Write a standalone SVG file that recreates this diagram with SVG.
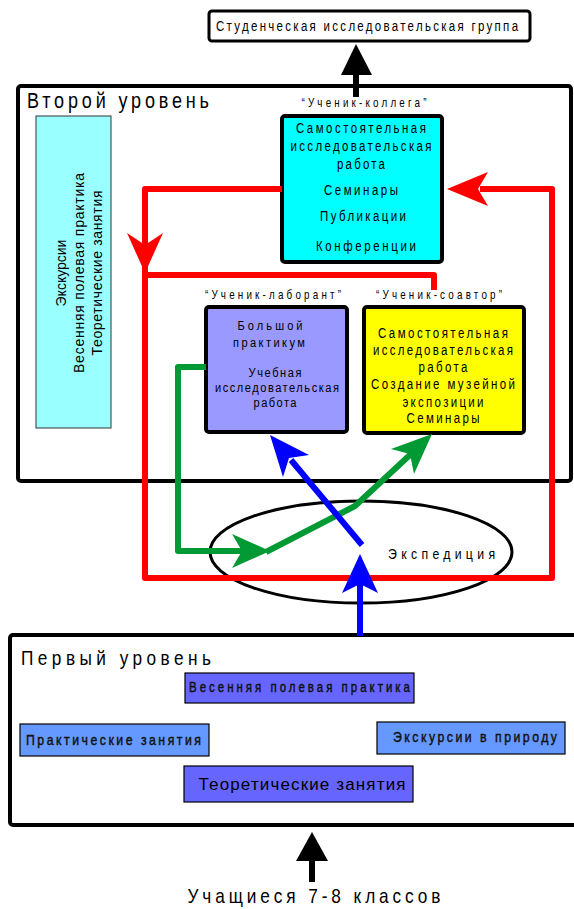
<svg xmlns="http://www.w3.org/2000/svg" width="574" height="909" viewBox="0 0 574 909">
<style>
.t{font-family:"Liberation Sans",Arial,sans-serif;fill:#000;text-anchor:middle}
.tl{font-family:"Liberation Sans",Arial,sans-serif;fill:#000}
.b{fill:#111;stroke:#111;stroke-width:0.45}
.r{font-family:"Liberation Sans",Arial,sans-serif;fill:#000;text-anchor:middle}
.frame{fill:#fff;stroke:#000;stroke-width:4}
.box{stroke:#000;stroke-width:4}
.thin{stroke:#000;stroke-width:1.2}
.red{fill:none;stroke:#f00;stroke-width:6;stroke-linejoin:round}
.green{fill:none;stroke:#009933;stroke-width:6;stroke-linejoin:round}
.blue{fill:none;stroke:#00f;stroke-width:6}
.blk{fill:none;stroke:#000;stroke-width:6}
</style>
<rect width="574" height="909" fill="#fff"/>

<g id="level2">
<rect class="frame" x="18" y="86" width="553" height="395" rx="3"/>
<g transform="scale(0.82,1)">
<text class="tl" x="32.9" y="108" font-size="22" textLength="222">Второй уровень</text>
</g>
</g>

<g id="level1">
<rect class="frame" x="10" y="635" width="570" height="190" rx="3"/>
<g transform="scale(0.82,1)">
<text class="tl" x="25.6" y="665" font-size="21" textLength="231.7">Первый уровень</text>
</g>
</g>

<g id="student-group">
<rect x="209" y="11" width="321" height="30" rx="3" fill="#fff" stroke="#000" stroke-width="3"/>
<g transform="scale(0.82,1)">
<text class="t" x="447.6" y="31" font-size="14" textLength="368.3">Студенческая исследовательская группа</text>
</g>
</g>

<g id="first-level-activities">
<rect x="36" y="116" width="75" height="312" fill="#99ffff" stroke="#333" stroke-width="1"/>
<g transform="translate(0,273) rotate(-90)">
<text class="r" x="0" y="66" font-size="14">Экскурсии</text>
<text class="r" x="0" y="84" font-size="14" textLength="200">Весенняя полевая практика</text>
<text class="r" x="0" y="102" font-size="14" textLength="165">Теоретические занятия</text>
</g>
</g>

<g id="colleague">
<rect class="box" x="282" y="116" width="160" height="146" rx="3" fill="#00ffff"/>
<g transform="scale(0.82,1)">
<text class="t" x="443.9" y="107" font-size="12" textLength="152.4">“Ученик-коллега”</text>
<text class="t" x="440.2" y="133" font-size="14" textLength="158.5">Самостоятельная</text>
<text class="t" x="440.2" y="151" font-size="14" textLength="172">исследовательская</text>
<text class="t" x="440.2" y="169" font-size="14" textLength="58.5">работа</text>
<text class="t" x="440.2" y="195" font-size="14" textLength="90.2">Семинары</text>
<text class="t" x="442.7" y="221" font-size="14" textLength="104.9">Публикации</text>
<text class="t" x="446.3" y="251" font-size="14" textLength="122">Конференции</text>
</g>
</g>

<g id="laborant">
<rect class="box" x="206" y="307" width="141" height="125" rx="3" fill="#9999ff"/>
<g transform="scale(0.82,1)">
<text class="t" x="332.9" y="299" font-size="12" textLength="165.9">“Ученик-лаборант”</text>
<text class="t" x="329.3" y="330" font-size="13.5" textLength="79.3">Большой</text>
<text class="t" x="328" y="347" font-size="13.5" textLength="87.8">практикум</text>
<text class="t" x="335.4" y="377" font-size="13.5" textLength="64.6">Учебная</text>
<text class="t" x="337.8" y="392" font-size="13.5" textLength="151.2">исследовательская</text>
<text class="t" x="335.4" y="407" font-size="13.5" textLength="52.4">работа</text>
</g>
</g>

<g id="coauthor">
<rect class="box" x="364" y="307" width="160" height="126" rx="3" fill="#ffff00"/>
<g transform="scale(0.82,1)">
<text class="t" x="535.4" y="299" font-size="12" textLength="153.7">“Ученик-соавтор”</text>
<text class="t" x="540.2" y="338" font-size="14" textLength="158.5">Самостоятельная</text>
<text class="t" x="540.2" y="355" font-size="14" textLength="170.7">исследовательская</text>
<text class="t" x="540.2" y="372" font-size="14" textLength="59.8">работа</text>
<text class="t" x="540.2" y="389" font-size="14" textLength="175.6">Создание музейной</text>
<text class="t" x="540.2" y="407" font-size="14" textLength="98.8">экспозиции</text>
<text class="t" x="540.2" y="423" font-size="14" textLength="89">Семинары</text>
</g>
</g>

<g id="expedition">
<ellipse cx="361" cy="552" rx="151" ry="51" fill="none" stroke="#000" stroke-width="3"/>
<g transform="scale(0.82,1)">
<text class="tl" x="473.2" y="559" font-size="15" textLength="130.5">Экспедиция</text>
</g>
</g>

<g id="level1-items">
<rect class="thin" x="185" y="673" width="229" height="30" fill="#6666ff"/>
<rect class="thin" x="20" y="724" width="189" height="32" fill="#6699ff"/>
<rect class="thin" x="377" y="722" width="188" height="32" fill="#6699ff"/>
<rect class="thin" x="184" y="766" width="229" height="36" fill="#6666ff"/>
<g transform="scale(0.82,1)">
<text class="tl b" x="230.5" y="692" font-size="14" textLength="269.5">Весенняя полевая практика</text>
<text class="tl b" x="31.7" y="745" font-size="15" textLength="213.4">Практические занятия</text>
<text class="tl b" x="479.3" y="742" font-size="15" textLength="200">Экскурсии в природу</text>
</g>
<text class="r" x="302" y="790" font-size="17" textLength="207">Теоретические занятия</text>
</g>

<g id="pupils">
<g transform="scale(0.82,1)">
<text class="t" x="382.9" y="903" font-size="21" textLength="308.5">Учащиеся 7-8 классов</text>
</g>
</g>

<g id="connectors">
<path class="blk" d="M356,97 V70"/>
<polygon points="356,44 341,75 372,75" fill="#000"/>
<path class="blk" d="M312,882 V855"/>
<polygon points="312,832 296,861 328,861" fill="#000"/>

<path class="red" d="M282,189 H145 V246"/>
<polygon points="145,273 127,233 145,245 163,233" fill="#f00"/>
<path class="red" d="M145,246 V578 H552 V189 H480"/>
<polygon points="447,189 488,172 478,189 488,206" fill="#f00"/>
<path class="red" d="M145,275 H434 V290"/>

<path class="green" d="M206,367 H178 V551 H245"/>
<polygon points="270,551 232,534 242,551 232,568" fill="#009933"/>
<path class="green" d="M266,552 L355,506 L412,453"/>
<polygon points="432,434 391,449 410,454 414,474" fill="#009933"/>

<path class="blue" d="M362,545 L291,460"/>
<polygon points="270,435 309,455 289,458 283,477" fill="#00f"/>
<path class="blue" d="M360,636 V584"/>
<polygon points="360,554 342,593 360,584 378,593" fill="#00f"/>
</g>
</svg>
